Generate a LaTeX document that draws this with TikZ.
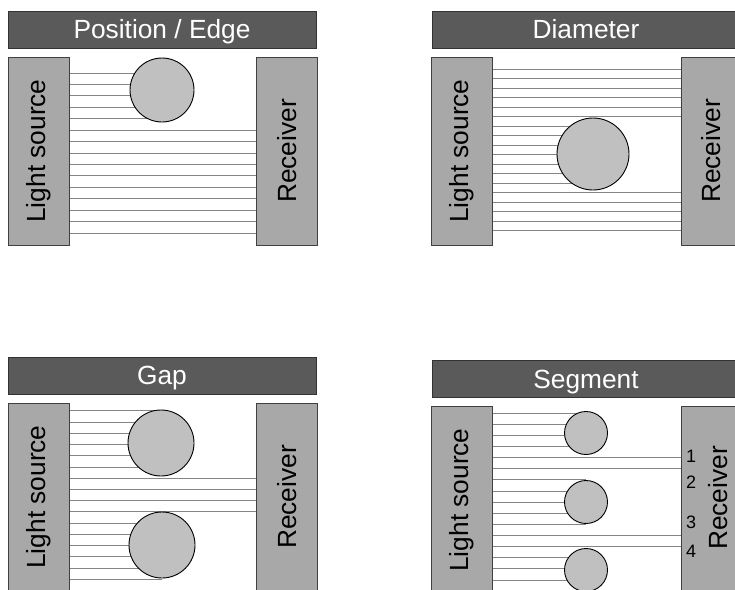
\documentclass[tikz,border=0pt]{standalone}
\usepackage{fontspec}
\setmainfont{Liberation Sans}
\usepackage{graphicx}
\usetikzlibrary{backgrounds}
\definecolor{bardark}{HTML}{5A5A5A}
\definecolor{boxgray}{HTML}{A8A8A8}
\definecolor{discgray}{HTML}{C0C0C0}
\definecolor{beamgray}{HTML}{858585}
\tikzset{
    titlebar/.style={draw=black!80, fill=bardark, text=white, minimum width=308, minimum height=37, inner sep=0pt, text height=18.8pt, text depth=0pt, font=\fontsize{26.3}{30}\selectfont},
    unitbox/.style={draw=black!75, fill=boxgray, minimum width=61, minimum height=188, inner sep=0pt, font=\fontsize{26.3}{30}\selectfont},
    disc/.style={circle, draw=black, fill=discgray, line width=0.9pt, inner sep=0pt},
    beam/.style={draw=beamgray, line width=0.8pt},
    segno/.style={font=\fontsize{18}{20}\selectfont, inner sep=0pt}
}
\begin{document}
\begin{tikzpicture}[x=1pt, y=-1pt]
    \useasboundingbox (0,0) rectangle (735,589);
    % position / edge
    \node[titlebar] (titA) at (162,29.5) {Position / Edge};
    \node[unitbox] (srcA) at (38.5,151) {\rotatebox{90}{Light source}};
    \node[unitbox] (rcvA) at (287,151) {\rotatebox{90}{Receiver}};
    \node[disc, minimum size=64] (objA) at (162,90) {};
    \begin{scope}[on background layer]
        \foreach \i [evaluate=\i as \y using 73+11.43*\i] in {0,...,4}
            \draw[beam] (srcA.east |- 0,\y) -- (objA.center |- 0,\y);
        \foreach \i [evaluate=\i as \y using 73+11.43*\i] in {5,...,14}
            \draw[beam] (srcA.east |- 0,\y) -- (rcvA.west |- 0,\y);
    \end{scope}
    % diameter
    \node[titlebar] (titB) at (586,29.5) {Diameter};
    \node[unitbox] (srcB) at (462,151) {\rotatebox{90}{Light source}};
    \node[unitbox] (rcvB) at (711.5,151) {\rotatebox{90}{Receiver}};
    \node[disc, minimum size=72] (objB) at (593,154) {};
    \begin{scope}[on background layer]
        \foreach \i [evaluate=\i as \y using 69+9.5*\i] in {0,...,5,13,14,15,16,17}
            \draw[beam] (srcB.east |- 0,\y) -- (rcvB.west |- 0,\y);
        \foreach \i [evaluate=\i as \y using 69+9.5*\i] in {6,...,12}
            \draw[beam] (srcB.east |- 0,\y) -- (objB.center |- 0,\y);
    \end{scope}
    % gap
    \node[titlebar] (titC) at (162,375.5) {Gap};
    \node[unitbox] (srcC) at (38.5,497) {\rotatebox{90}{Light source}};
    \node[unitbox] (rcvC) at (287,497) {\rotatebox{90}{Receiver}};
    \node[disc, minimum size=66] (objC1) at (161,443) {};
    \node[disc, minimum size=66] (objC2) at (162,545) {};
    \begin{scope}[on background layer]
        \foreach \i [evaluate=\i as \y using 410.7+11.24*\i] in {0,...,5}
            \draw[beam] (srcC.east |- 0,\y) -- (objC1.center |- 0,\y);
        \foreach \i [evaluate=\i as \y using 410.7+11.24*\i] in {6,...,9}
            \draw[beam] (srcC.east |- 0,\y) -- (rcvC.west |- 0,\y);
        \foreach \i [evaluate=\i as \y using 410.7+11.24*\i] in {10,...,15}
            \draw[beam] (srcC.east |- 0,\y) -- (objC2.center |- 0,\y);
    \end{scope}
    % segment
    \node[titlebar] (titD) at (586,379) {Segment};
    \node[unitbox] (srcD) at (462,500) {\rotatebox{90}{Light source}};
    \node[unitbox] (rcvD) at (711.5,500) {};
    \node[rotate=90, font=\fontsize{26.3}{30}\selectfont, inner sep=0pt] (rcvDtxt) at (718,498) {Receiver};
    \node[disc, minimum size=43] (objD1) at (586,433) {};
    \node[disc, minimum size=43] (objD2) at (586,502) {};
    \node[disc, minimum size=43] (objD3) at (586,570) {};
    \node[segno] (seg1) at (691,456) {1};
    \node[segno] (seg2) at (691,482) {2};
    \node[segno] (seg3) at (691,522) {3};
    \node[segno] (seg4) at (691,551) {4};
    \begin{scope}[on background layer]
        \foreach \i [evaluate=\i as \y using 413+11.13*\i] in {0,...,3}
            \draw[beam] (srcD.east |- 0,\y) -- (objD1.center |- 0,\y);
        \foreach \i [evaluate=\i as \y using 413+11.13*\i] in {4,5,11,12}
            \draw[beam] (srcD.east |- 0,\y) -- (rcvD.west |- 0,\y);
        \foreach \i [evaluate=\i as \y using 413+11.13*\i] in {6,...,10}
            \draw[beam] (srcD.east |- 0,\y) -- (objD2.center |- 0,\y);
        \foreach \i [evaluate=\i as \y using 413+11.13*\i] in {13,...,15}
            \draw[beam] (srcD.east |- 0,\y) -- (objD3.center |- 0,\y);
    \end{scope}
\end{tikzpicture}
\end{document}
